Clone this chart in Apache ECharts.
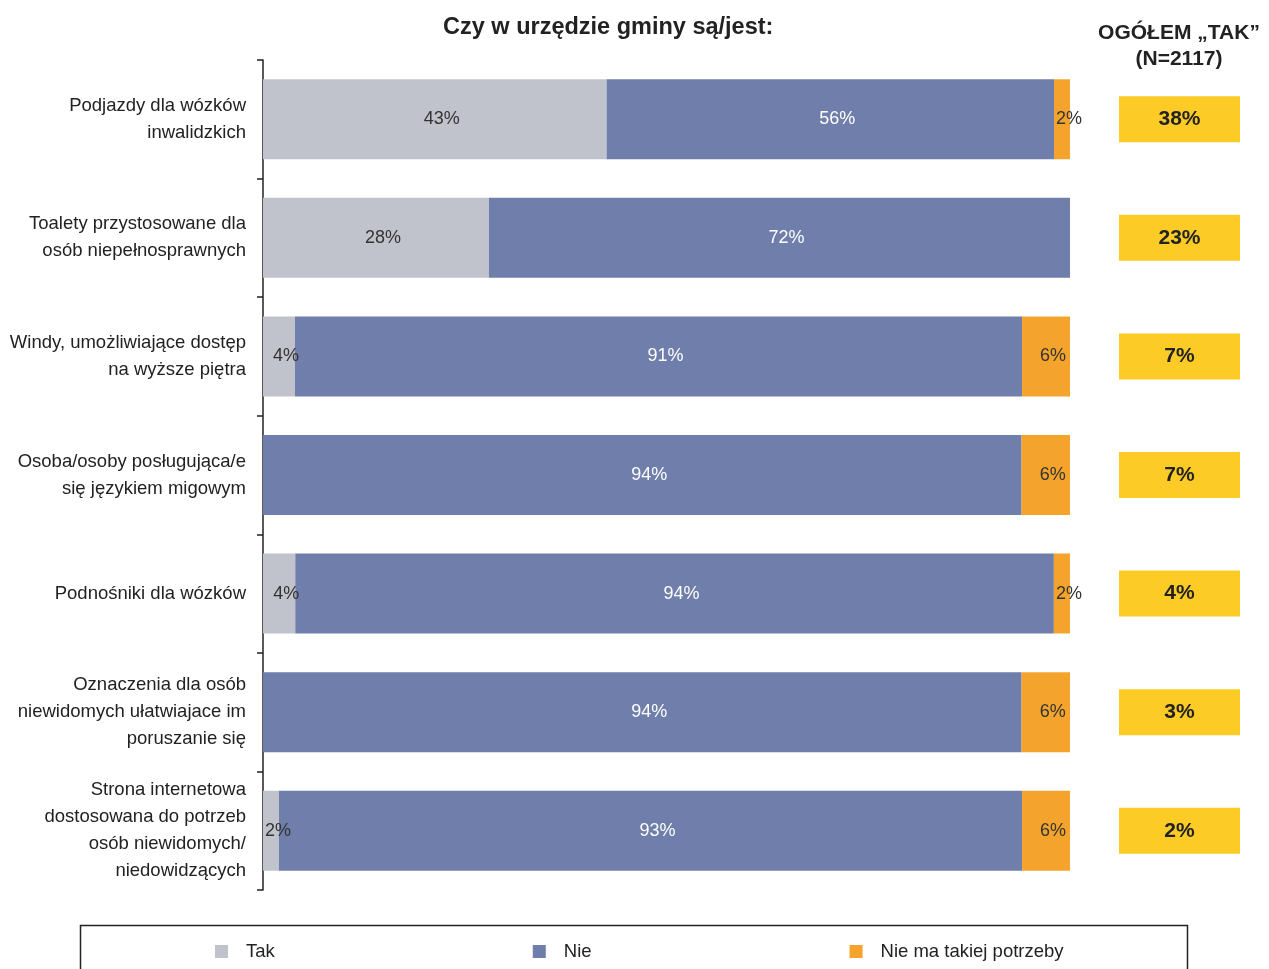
<!DOCTYPE html>
<html>
<head>
<meta charset="utf-8">
<script src="https://cdn.jsdelivr.net/npm/echarts@6/dist/echarts.min.js"></script>
<style>
html, body { margin: 0; background: #fff; }
#chart { width: 1269px; height: 969px; }
</style>
</head>
<body>
<div id="chart"></div>
<script>
// dane z wykresu
var categories = [
    'Podjazdy dla wózków\ninwalidzkich',
    'Toalety przystosowane dla\nosób niepełnosprawnych',
    'Windy, umożliwiające dostęp\nna wyższe piętra',
    'Osoba/osoby posługująca/e\nsię językiem migowym',
    'Podnośniki dla wózków',
    'Oznaczenia dla osób\nniewidomych ułatwiajace im\nporuszanie się',
    'Strona internetowa\ndostosowana do potrzeb\nosób niewidomych/\nniedowidzących'
];
var seriesNames = ['Tak', 'Nie', 'Nie ma takiej potrzeby'];
var tak = [43, 28, 4, 0, 4, 0, 2];
var nie = [56, 72, 91, 94, 94, 94, 93];
var brak = [2, 0, 6, 6, 2, 6, 6];
var ogolemTak = [38, 23, 7, 7, 4, 3, 2];

var colors = ['#c0c3cb', '#6f7eab', '#f4a42c'];
var font = 'Liberation Sans, Arial, sans-serif';

// rounded percents add up to 101 sometimes, so bars are scaled to the row total
var totals = [];
for (var i = 0; i < categories.length; i++) {
    totals.push(tak[i] + nie[i] + brak[i]);
}

function scaled(arr) {
    return arr.map(function (v, i) { return v / totals[i] * 100; });
}

function makeSeries(name, raw, color, labelColor) {
    return {
        name: name,
        type: 'bar',
        stack: 'all',
        barWidth: 80,
        itemStyle: { color: color },
        label: {
            show: true,
            position: 'inside',
            offset: [7, 0],
            color: labelColor,
            fontFamily: font,
            fontSize: 18,
            formatter: function (p) {
                var v = raw[p.dataIndex];
                return v ? v + '%' : '';
            }
        },
        data: scaled(raw)
    };
}

var chart = echarts.init(document.getElementById('chart'));

var option = {
    animation: false,
    title: {
        text: 'Czy w urzędzie gminy są/jest:',
        left: 438,
        top: 11,
        textStyle: { fontFamily: font, fontSize: 23.5, fontWeight: 'bold', color: '#222' }
    },
    graphic: [
        {
            type: 'text',
            x: 1179,
            y: 20,
            style: {
                text: 'OGÓŁEM „TAK”\n(N=2117)',
                font: 'bold 21px ' + font,
                fill: '#222',
                align: 'center',
                lineHeight: 26
            }
        },
        {
            type: 'rect',
            left: 78,
            top: 923,
            shape: { width: 1107, height: 60 },
            style: { fill: 'none', stroke: '#222', lineWidth: 1.5 }
        }
    ],
    legend: {
        data: seriesNames,
        left: 210,
        top: 937,
        icon: 'rect',
        itemWidth: 13,
        itemHeight: 13,
        itemGap: 258,
        textStyle: { fontFamily: font, fontSize: 18.5, color: '#222', padding: [0, 0, 0, 13] }
    },
    grid: [
        { left: 263, right: 199, top: 60, bottom: 79 },
        { left: 1119, width: 121, top: 60, bottom: 79 }
    ],
    xAxis: [
        { type: 'value', min: 0, max: 100, show: false, gridIndex: 0 },
        { type: 'value', min: 0, max: 1, show: false, gridIndex: 1 }
    ],
    yAxis: [
        {
            type: 'category',
            data: categories,
            inverse: true,
            gridIndex: 0,
            axisLine: { lineStyle: { color: '#222', width: 1.5 } },
            axisTick: { show: true, length: 6, lineStyle: { color: '#222', width: 1.5 } },
            axisLabel: {
                margin: 17,
                fontFamily: font,
                fontSize: 18.5,
                lineHeight: 27,
                color: '#222',
                align: 'right'
            }
        },
        {
            type: 'category',
            data: categories,
            inverse: true,
            gridIndex: 1,
            show: false
        }
    ],
    series: [
        makeSeries(seriesNames[0], tak, colors[0], '#333'),
        makeSeries(seriesNames[1], nie, colors[1], '#fff'),
        makeSeries(seriesNames[2], brak, colors[2], '#333'),
        {
            name: 'Ogółem tak',
            type: 'bar',
            xAxisIndex: 1,
            yAxisIndex: 1,
            barWidth: 46,
            itemStyle: { color: '#fccb25' },
            label: {
                show: true,
                position: 'inside',
                color: '#222',
                fontFamily: font,
                fontSize: 21,
                fontWeight: 'bold',
                formatter: function (p) { return ogolemTak[p.dataIndex] + '%'; }
            },
            data: ogolemTak.map(function () { return 1; })
        }
    ]
};

chart.setOption(option);
</script>
</body>
</html>
